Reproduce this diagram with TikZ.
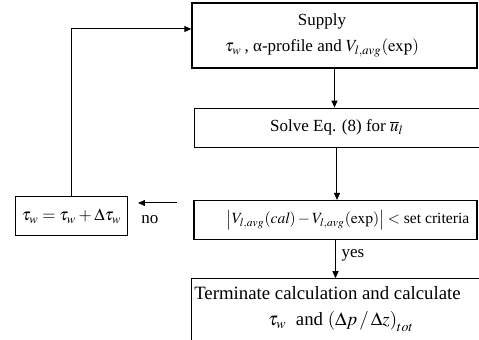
\documentclass[tikz,border=0pt]{standalone}
\usepackage[no-math]{fontspec}
\usepackage{mathptmx}
\setmainfont{Liberation Serif}
\usetikzlibrary{positioning,arrows.meta,calc}

\begin{document}
\begin{tikzpicture}[x=0.5pt,y=-0.5pt,
  box/.style={draw,line width=0.65pt,inner sep=0pt,align=center,font=\fontsize{8.5}{12}\selectfont},
  arr/.style={line width=0.5pt,-{Triangle[length=3.5pt,width=3pt]}}]

  \useasboundingbox (0,0) rectangle (479,340);
  \clip (0,0) rectangle (479,340);

  % hlavni kroky
  \node[box,minimum width=142.5pt,minimum height=32.5pt] (supply) at (334.5,35.5)
    {Supply\hspace*{12.5pt}\\[1pt] $\tau_w$\,, α-profile and $V_{l,avg}(\mathrm{exp})$\hspace*{12.5pt}};
  \node[box,minimum width=142.5pt,minimum height=19.5pt,below=19.5pt of supply,xshift=1.25pt] (solve)
    {Solve Eq. (8) for $\overline{u}_l$};
  \node[box,minimum width=141.5pt,minimum height=19.5pt,below=26pt of solve,xshift=-0.75pt,
    font=\fontsize{7.8}{10}\selectfont] (crit)
    {\hspace*{12.5pt}$\left|V_{l,avg}(\mathit{cal})-V_{l,avg}(\mathrm{exp})\right|<$ set criteria};
  \node[box,draw=none,minimum width=145pt,minimum height=30pt,below=19pt of crit,xshift=0.75pt,
    font=\fontsize{9.4}{13}\selectfont] (bot)
    {Terminate calculation and calculate\hspace*{9.5pt}\\ \hspace*{4pt}$\tau_w$ \ and $\left(\Delta p\,/\,\Delta z\right)_{tot}$};
  \draw[line width=0.65pt] (bot.north west) rectangle ($(bot.south east)+(0,40)$);

  % oprava tau_w
  \node[box,minimum width=56pt,minimum height=19.5pt,left=32.5pt of crit,yshift=2pt] (upd)
    {$\tau_w=\tau_w+\Delta\tau_w$};

  % sipky
  \draw[arr] (supply.south) -- (supply.south |- solve.north);
  \draw[arr] (solve.south) -- (solve.south |- crit.north);
  \draw[arr] (crit.south) -- (crit.south |- bot.north);

  % vetev no
  \coordinate (nostart) at (177,203);
  \coordinate (noend) at (138,203);
  \draw[arr] (nostart) -- (noend);
  \draw[arr] (upd.north) |- ($(supply.west)+(0,-6.5)$);

  % popisky
  \node[font=\fontsize{8.5}{10}\selectfont] (yes) at (353,255) {yes};
  \node[font=\fontsize{8.5}{10}\selectfont] (no) at (150,220) {no};

\end{tikzpicture}
\end{document}
